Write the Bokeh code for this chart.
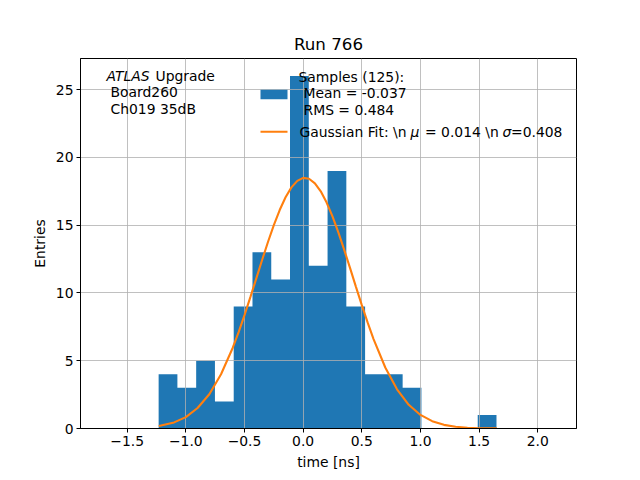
from bokeh.plotting import figure
from bokeh.models import BoxAnnotation, Label, FixedTicker
from bokeh.embed import file_html
from bokeh.resources import INLINE

# histogram (18 bins of 0.16 ns)
bin_edges = [-1.232, -1.072, -0.912, -0.752, -0.592, -0.432, -0.272, -0.112,
             0.048, 0.208, 0.368, 0.528, 0.688, 0.848, 1.008, 1.168, 1.328,
             1.488, 1.648]
counts = [4, 3, 5, 2, 9, 13, 11, 26, 12, 19, 9, 4, 4, 3, 0, 0, 0, 1]

# gaussian fit curve
fit_x = [-1.23, -1.1, -1.0, -0.9, -0.8, -0.7, -0.6, -0.55, -0.5, -0.45, -0.4,
         -0.35, -0.3, -0.25, -0.2, -0.15, -0.1, -0.05, 0.0, 0.05, 0.1, 0.15,
         0.2, 0.25, 0.3, 0.35, 0.4, 0.45, 0.5, 0.55, 0.6, 0.7, 0.8, 0.9, 1.0,
         1.1, 1.2, 1.3, 1.4, 1.5, 1.65]
fit_y = [0.18, 0.45, 0.84, 1.51, 2.53, 4.00, 5.96, 7.11, 8.37, 9.69, 11.06,
         12.43, 13.76, 15.01, 16.12, 17.06, 17.79, 18.27, 18.49, 18.43, 18.09,
         17.50, 16.67, 15.65, 14.47, 13.18, 11.83, 10.45, 9.10, 7.81, 6.60,
         4.50, 2.89, 1.75, 1.00, 0.54, 0.27, 0.13, 0.06, 0.02, 0.01]

x_ticks = [-1.5, -1.0, -0.5, 0.0, 0.5, 1.0, 1.5, 2.0]
x_tick_labels = ["\u22121.5", "\u22121.0", "\u22120.5", "0.0", "0.5", "1.0", "1.5", "2.0"]
y_ticks = [0, 5, 10, 15, 20, 25]

FONT = "DejaVu Sans"
FS = "13.9px"
BLUE = "#1f77b4"
ORANGE = "#ff7f0e"

p = figure(
    frame_width=496, frame_height=370,
    min_border_left=80, min_border_right=64,
    min_border_top=58, min_border_bottom=52,
    x_range=(-1.898, 2.330), y_range=(0, 27.3),
    x_axis_label="time [ns]", y_axis_label="Entries",
    title="Run 766",
    output_backend="svg", toolbar_location=None,
)

# histogram as one stepped area (no seams between bins), below the grid;
# the fit line sits above the grid as in matplotlib
p.varea_step(x=bin_edges, y1=0, y2=counts + counts[-1:], step_mode="after",
             fill_color=BLUE, level="image")
p.line(fit_x, fit_y, line_color=ORANGE, line_width=2.1)

p.title.align = "center"
p.title.text_font = FONT
p.title.text_font_size = "16.7px"
p.title.text_font_style = "normal"
p.title.text_color = "black"

p.outline_line_color = "black"
p.outline_line_width = 1

for ax in (p.xaxis, p.yaxis):
    ax.axis_line_color = "black"
    ax.major_tick_line_color = "black"
    ax.major_tick_out = 4
    ax.major_tick_in = 0
    ax.minor_tick_line_color = None
    ax.major_label_text_font = FONT
    ax.major_label_text_font_size = FS
    ax.major_label_text_color = "black"
    ax.major_label_standoff = 3
    ax.axis_label_text_font = FONT
    ax.axis_label_text_font_size = FS
    ax.axis_label_text_font_style = "normal"
    ax.axis_label_text_color = "black"

p.xaxis.ticker = FixedTicker(ticks=x_ticks)
p.xaxis.major_label_overrides = dict(zip(x_ticks, x_tick_labels))
p.yaxis.ticker = FixedTicker(ticks=y_ticks)

p.grid.grid_line_color = "#b0b0b0"
p.grid.grid_line_width = 0.8
p.xgrid.ticker = FixedTicker(ticks=x_ticks)
p.ygrid.ticker = FixedTicker(ticks=y_ticks)


def label(x, y, text, style="normal"):
    p.add_layout(Label(x=x, y=y, x_units="screen", y_units="screen", text=text,
                       text_font=FONT, text_font_size=FS, text_font_style=style,
                       text_color="black", text_baseline="middle", text_align="left"))


# top-left info text
label(26, 353, "ATLAS", "italic")
label(75, 353, "Upgrade")
label(30, 336.3, "Board260")
label(30, 319.7, "Ch019 35dB")

# hand-made legend (no frame)
p.add_layout(BoxAnnotation(left=180, right=207, top=338.7, bottom=329.3,
                           left_units="screen", right_units="screen",
                           top_units="screen", bottom_units="screen",
                           fill_color=BLUE, fill_alpha=1, line_color=None))
p.add_layout(BoxAnnotation(left=180, right=207, top=297.8, bottom=295.7,
                           left_units="screen", right_units="screen",
                           top_units="screen", bottom_units="screen",
                           fill_color=ORANGE, fill_alpha=1, line_color=None))
label(218, 352, "Samples (125):")
label(223, 335.3, "Mean = -0.037")
label(223, 318.7, "RMS = 0.484")
label(219, 297, "Gaussian Fit: \\n")
label(330, 297, "\u03bc", "italic")
label(344.5, 297, "= 0.014 \\n")
label(422, 297, "\u03c3", "italic")
label(430.5, 297, "=0.408")

open("out.html", "w").write(file_html(p, INLINE))
